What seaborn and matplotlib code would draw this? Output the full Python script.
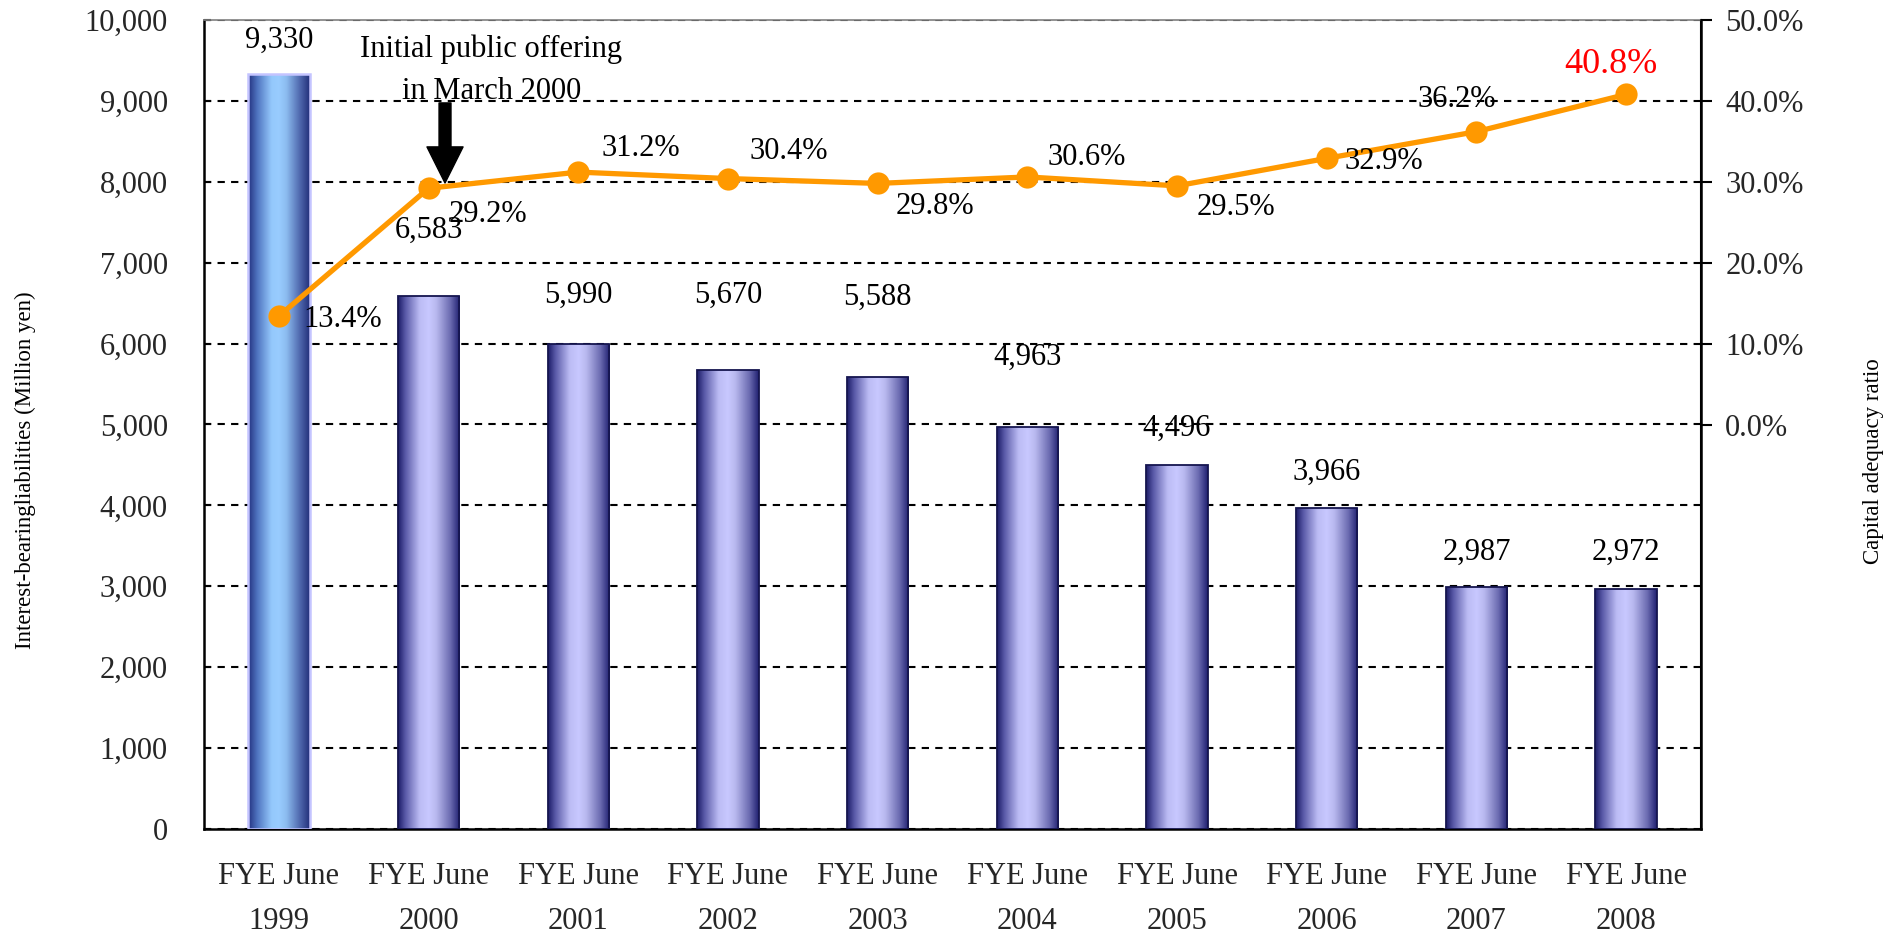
import numpy as np
import pandas as pd
import matplotlib
matplotlib.use("Agg")
import matplotlib.pyplot as plt
import seaborn as sns
from matplotlib.colors import LinearSegmentedColormap

# ---------------- data ----------------
years = ["1999", "2000", "2001", "2002", "2003", "2004", "2005", "2006", "2007", "2008"]
categories = [f"FYE June\n{y}" for y in years]
liabilities = [9330, 6583, 5990, 5670, 5588, 4963, 4496, 3966, 2987, 2972]
capital_ratio = [13.4, 29.2, 31.2, 30.4, 29.8, 30.6, 29.5, 32.9, 36.2, 40.8]
left_ticks = [0, 1000, 2000, 3000, 4000, 5000, 6000, 7000, 8000, 9000, 10000]
right_ticks = [0, 10, 20, 30, 40, 50]
ipo_note = "Initial public offering\nin March 2000"

# ---------------- layout (pixels) ----------------
bar_label_dy = [34, 66, 49, 75, 80, 70, 37, 36, 35, 36]          # above bar top
pct_label_dxy = [(64, 3), (59, 26), (63, -24), (61, -27), (57, 23),
                 (59, -19), (59, 22), (57, 3), (-20, -32), (-15, -30)]  # (dx, dy down)

sns.set_theme(style="white")
plt.rcParams["font.family"] = ["Liberation Serif", "DejaVu Serif"]

FS = 22
px2pt = 72 / 100

fig = plt.figure(figsize=(19.03, 9.38), dpi=100)
ax = fig.add_axes([204 / 1903, 1 - 829 / 938, (1701 - 204) / 1903, (829 - 20) / 938])

df = pd.DataFrame({"cat": categories, "val": liabilities})
sns.barplot(data=df, x="cat", y="val", ax=ax, width=0.41, color="#c8c8ff",
            saturation=1, edgecolor="#15154f", linewidth=1.3, zorder=3)

cmap_main = LinearSegmentedColormap.from_list(
    "main", [(0.0, "#1c1c68"), (0.12, "#5a5aa8"), (0.35, "#bcbcf4"),
             (0.5, "#c8c8ff"), (0.62, "#b8b8ee"), (0.85, "#6a6ab0"), (1.0, "#202070")])
cmap_first = LinearSegmentedColormap.from_list(
    "first", [(0.0, "#22307f"), (0.15, "#4f74c0"), (0.38, "#94c8fc"),
              (0.5, "#99ccff"), (0.62, "#8cbcf0"), (0.85, "#4c64aa"), (1.0, "#23307a")])
grad = np.linspace(0, 1, 256).reshape(1, -1)

for i, p in enumerate(ax.patches):
    x0, w, h = p.get_x(), p.get_width(), p.get_height()
    cm = cmap_first if i == 0 else cmap_main
    im = ax.imshow(grad, cmap=cm, extent=[x0, x0 + w, 0, h], aspect="auto",
                   interpolation="bicubic", zorder=3.5)
    im.set_clip_path(p)
    p.set_facecolor("none")
    p.set_zorder(4)
    if i == 0:
        p.set_edgecolor("#c4c4ff")
        p.set_linewidth(1.8)
    ax.annotate(f"{liabilities[i]:,}", xy=(x0 + w / 2, h),
                xytext=(0, bar_label_dy[i] * px2pt), textcoords="offset points",
                ha="center", va="center", fontsize=FS, color="black", zorder=6)

ax.set_xlim(-0.5, len(categories) - 0.5)
ax.set_ylim(0, 10000)
ax.set_yticks(left_ticks)
ax.set_yticklabels([f"{t:,}" for t in left_ticks])
ax.set_xticks(range(len(categories)))
ax.set_xticklabels(categories)
ax.set_xticks(np.arange(-0.5, len(categories), 1), minor=True)
ax.tick_params(axis="x", which="major", length=0, pad=24, labelsize=FS)
ax.tick_params(axis="x", which="minor", length=8, width=1.5, direction="out", color="black")
ax.tick_params(axis="y", direction="in", length=5, width=1.5, pad=26, labelsize=FS,
               color="black", left=True)
for lbl in ax.get_xticklabels():
    lbl.set_linespacing(1.72)
ax.set_xlabel("")
ax.yaxis.grid(True, linestyle=(0, (3.5, 3)), color="black", linewidth=1.5)
ax.xaxis.grid(False)
ax.set_axisbelow(True)

ax.set_ylabel("Interest-bearingliabilities (Million yen)", fontsize=16.5, color="black")
ax.yaxis.set_label_coords(-0.119, 0.444)
ax.yaxis.label.set_va("center")

for side in ["left", "bottom"]:
    ax.spines[side].set_color("black")
    ax.spines[side].set_linewidth(1.8)
ax.spines["top"].set_color("#808080")
ax.spines["top"].set_linewidth(1.2)
ax.spines["right"].set_color("black")
ax.spines["right"].set_linewidth(1.5)

# IPO arrow and note
ax.annotate("", xy=(1.11, 7985), xytext=(1.11, 8975),
            arrowprops=dict(facecolor="black", edgecolor="black", width=8.6,
                            headwidth=26, headlength=26, shrink=0), zorder=6)
ax.text(1.42, 9380, ipo_note, ha="center", va="center", fontsize=FS,
        linespacing=1.6, color="black", zorder=6)

# ---------------- line on secondary axis ----------------
ax2 = ax.twinx()
sns.lineplot(x=np.arange(len(capital_ratio)), y=capital_ratio, ax=ax2, color="#ff9900",
             linewidth=3.8, marker="o", markersize=16, markeredgewidth=0, zorder=5)
ax2.set_ylim(-50, 50)
ax2.set_yticks(right_ticks)
ax2.set_yticklabels([f"{t:.1f}%" for t in right_ticks])
ax2.tick_params(axis="y", direction="out", length=8, width=1.5, pad=9.5, labelsize=FS,
                color="black", right=True)
ax2.set_xlabel("")
ax2.set_ylabel("Capital adequacy ratio", fontsize=16.5, color="black")
ax2.yaxis.set_label_coords(1.115, 0.455)
ax2.yaxis.label.set_va("center")
ax2.grid(False)
for side in ["left", "bottom", "top"]:
    ax2.spines[side].set_visible(False)
ax2.spines["right"].set_color("black")
ax2.spines["right"].set_linewidth(1.8)

for i, v in enumerate(capital_ratio):
    dx, dy = pct_label_dxy[i]
    last = i == len(capital_ratio) - 1
    ax2.annotate(f"{v:.1f}%", xy=(i, v), xytext=(dx * px2pt, -dy * px2pt),
                 textcoords="offset points", ha="center", va="center",
                 fontsize=26 if last else FS, color="#ff0000" if last else "black", zorder=7)

fig.savefig("out.png", dpi=100)
